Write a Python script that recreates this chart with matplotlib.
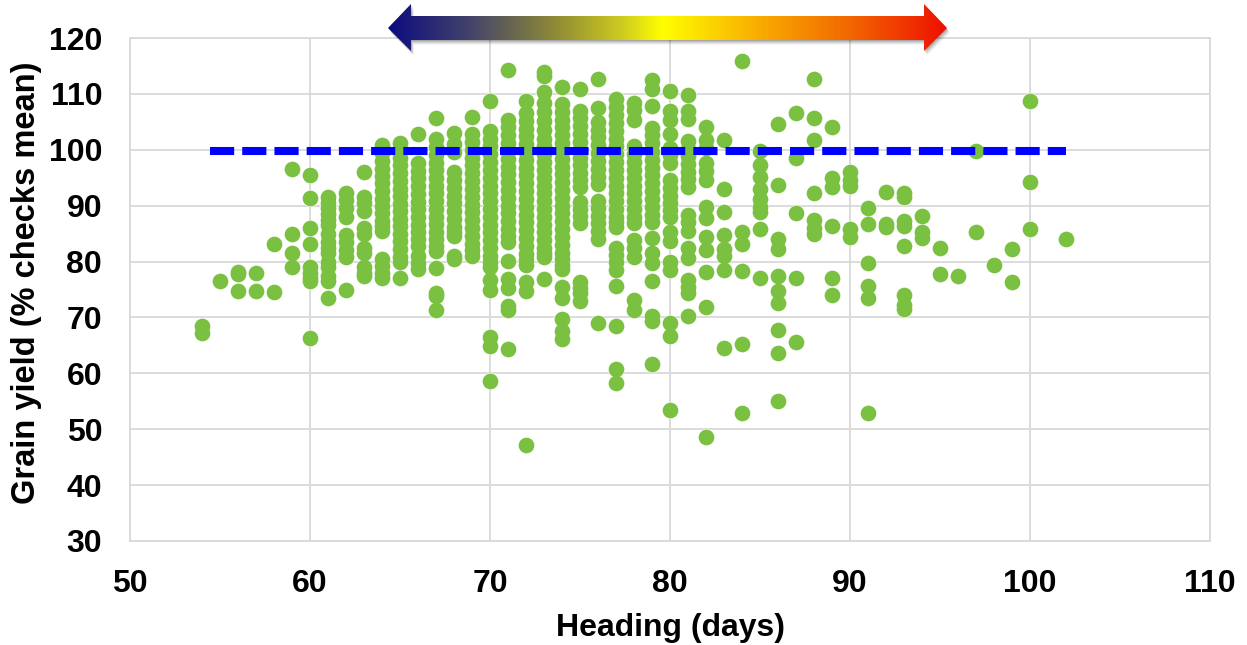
# -*- coding: utf-8 -*-
import numpy as np
import matplotlib
matplotlib.use('Agg')
from matplotlib import pyplot as plt
from matplotlib.colors import LinearSegmentedColormap
from matplotlib.patches import Polygon

plt.rcParams['font.family'] = ['Liberation Sans', 'DejaVu Sans']

# grain yield per heading day, read column by column
d54 = [68.5, 67.3]
d55 = [76.6]
d56 = [78.1, 77.7, 74.8]
d57 = [77.9, 74.7]
d58 = [83.2, 74.5]
d59 = [96.6, 85.0, 81.5, 79.0]
d60 = [95.5, 91.4, 86.0, 83.2, 79.0, 78.0, 77.0, 76.5, 66.3]
d61 = [91.5, 90.5, 89.5, 88.5, 87.5, 86.5, 85.0, 83.5, 82.5, 81.5, 80.0, 79.0, 77.5, 76.5, 73.5]
d62 = [92.3, 91.0, 89.5, 88.0, 84.8, 83.5, 82.0, 80.8, 75.0]
d63 = [96.0, 91.5, 90.5, 89.0, 86.0, 85.0, 82.5, 81.5, 79.0, 78.0, 77.5]
d64 = [100.9, 99.4, 98.0, 96.6, 95.3, 94.0, 92.6, 91.2, 89.9, 88.6, 87.3, 86.4, 85.5, 80.4, 79.2, 78.0, 77.1]
d65 = [101.3, 100.0, 98.5, 97.2, 95.8, 94.4, 93.0, 91.7, 90.3, 89.0, 87.6, 86.3, 85.0, 83.6, 82.2, 80.9, 80.0, 77.1]
d66 = [102.9, 97.6, 96.2, 94.9, 93.5, 92.1, 90.7, 89.4, 88.0, 86.6, 85.3, 84.0, 82.7, 81.0, 79.8, 78.6]
d67 = [105.6, 101.9, 100.5, 99.1, 97.7, 96.3, 95.0, 93.6, 92.2, 90.8, 89.4, 88.0, 86.7, 85.3, 84.0, 82.8, 81.8, 78.8, 74.3, 73.9, 71.3]
d68 = [103.0, 101.0, 99.6, 96.0, 94.6, 93.2, 91.8, 90.4, 89.0, 87.6, 86.2, 85.2, 84.5, 81.0, 80.4]
d69 = [105.8, 102.8, 101.4, 100.0, 98.6, 97.2, 95.8, 94.4, 93.0, 91.6, 90.2, 88.8, 87.4, 86.0, 84.6, 83.2, 82.0, 81.0]
d70 = [108.8, 103.4, 102.0, 100.6, 99.2, 97.8, 96.4, 95.0, 93.6, 92.2, 90.8, 89.4, 88.0, 86.6, 85.2, 83.8, 82.4,
       81.0, 80.0, 79.0, 76.7, 74.9, 66.5, 64.9, 58.6]
d71 = [114.3, 105.4, 104.0, 102.6, 101.2, 99.8, 98.4, 97.0, 95.6, 94.2, 92.8, 91.4, 90.0, 88.6, 87.2, 85.8, 84.6,
       83.5, 80.1, 76.8, 75.2, 72.0, 71.3, 64.4]
d72 = [108.8, 106.6, 105.2, 103.8, 102.4, 101.0, 99.6, 98.2, 96.8, 95.4, 94.0, 92.6, 91.2, 89.8, 88.4, 87.0, 85.6,
       84.2, 82.8, 81.4, 80.3, 79.4, 76.4, 74.7, 47.1]
d73 = [114.0, 113.2, 110.4, 108.4, 106.8, 105.2, 103.6, 102.0, 100.6, 99.2, 97.8, 96.4, 95.0, 93.6, 92.2, 90.8,
       89.4, 88.0, 86.6, 85.2, 83.8, 82.4, 81.5, 80.8, 76.9]
d74 = [111.2, 108.2, 106.8, 105.4, 104.0, 102.6, 101.2, 99.8, 98.4, 97.0, 95.6, 94.2, 92.8, 91.4, 90.0, 88.6, 87.2,
       85.8, 84.4, 83.0, 81.6, 80.4, 79.4, 78.6, 75.4, 73.5, 69.7, 67.5, 66.2]
d75 = [110.8, 107.0, 105.6, 104.2, 102.8, 101.4, 100.0, 98.6, 97.2, 95.8, 94.6, 93.4, 90.7, 89.4, 88.2, 86.9, 76.3, 75.2, 74.3, 72.9]
d76 = [112.7, 107.5, 105.0, 103.6, 102.2, 100.8, 99.4, 98.0, 96.6, 95.2, 93.9, 90.8, 89.5, 88.2, 86.9, 85.5, 84.0, 69.0]
d77 = [109.0, 107.6, 106.2, 104.8, 103.4, 102.0, 100.6, 99.2, 97.8, 96.4, 95.0, 93.6, 92.2, 90.8, 89.4, 88.0, 87.0,
       86.2, 82.4, 81.2, 80.0, 78.5, 75.7, 68.4, 60.8, 58.3]
d78 = [108.4, 107.2, 105.3, 100.6, 99.2, 97.8, 96.4, 95.0, 93.6, 92.2, 90.8, 89.4, 88.0, 86.9, 83.9, 82.4, 80.9, 73.1, 71.3]
d79 = [112.5, 110.8, 107.8, 103.9, 102.6, 101.2, 99.6, 98.2, 96.8, 95.4, 94.0, 92.6, 91.2, 89.8, 88.4, 87.1, 84.3,
       81.5, 79.7, 76.5, 70.3, 69.3, 61.7]
d80 = [110.5, 107.0, 105.4, 102.8, 100.3, 99.0, 97.7, 94.6, 93.2, 91.8, 90.4, 89.2, 88.0, 85.3, 83.6, 80.0, 78.5, 69.0, 66.7, 53.4]
d81 = [109.8, 107.0, 105.5, 101.5, 100.2, 98.8, 97.4, 96.0, 94.7, 93.4, 88.3, 87.0, 85.5, 82.4, 80.6, 76.7, 75.4, 74.3, 70.2]
d82 = [104.0, 101.7, 100.3, 97.6, 96.2, 94.6, 89.8, 87.8, 84.4, 82.0, 78.1, 71.9, 48.6]
d83 = [101.8, 93.0, 88.8, 84.8, 82.2, 81.0, 78.5, 64.5]
d84 = [115.8, 85.2, 83.2, 78.3, 65.2, 52.9]
d85 = [99.7, 97.3, 95.2, 93.0, 91.2, 89.8, 88.9, 85.8, 77.0]
d86 = [104.6, 93.7, 84.0, 82.2, 77.5, 74.7, 72.6, 67.8, 63.7, 55.0]
d87 = [106.6, 98.6, 88.7, 77.0, 65.6]
d88 = [112.7, 105.7, 101.7, 92.2, 87.5, 86.0, 85.0]
d89 = [104.0, 95.0, 93.4, 86.4, 77.0, 74.0]
d90 = [96.0, 94.6, 93.6, 85.8, 84.4]
d91 = [89.6, 86.7, 79.8, 75.7, 73.5, 52.9]
d92 = [92.5, 86.7, 86.2]
d93 = [92.2, 91.5, 87.2, 86.3, 82.8, 74.0, 72.3, 71.5]
d94 = [88.2, 85.3, 84.3]
d95 = [82.4, 77.7]
d96 = [77.5]
d97 = [99.8, 85.3]
d98 = [79.3]
d99 = [82.2, 76.4]
d100 = [108.8, 94.3, 85.8]
d102 = [84.1]

columns = {54: d54, 55: d55, 56: d56, 57: d57, 58: d58, 59: d59, 60: d60, 61: d61, 62: d62, 63: d63,
           64: d64, 65: d65, 66: d66, 67: d67, 68: d68, 69: d69, 70: d70, 71: d71, 72: d72, 73: d73,
           74: d74, 75: d75, 76: d76, 77: d77, 78: d78, 79: d79, 80: d80, 81: d81, 82: d82, 83: d83,
           84: d84, 85: d85, 86: d86, 87: d87, 88: d88, 89: d89, 90: d90, 91: d91, 92: d92, 93: d93,
           94: d94, 95: d95, 96: d96, 97: d97, 98: d98, 99: d99, 100: d100, 102: d102}

check_x = [54.45, 102]
check_y = [99.8, 99.8]

xticks = [50, 60, 70, 80, 90, 100, 110]
yticks = [30, 40, 50, 60, 70, 80, 90, 100, 110, 120]

W, H = 1247, 645
fig = plt.figure(figsize=(W / 100, H / 100), dpi=100)
ax = fig.add_axes([130 / W, 1 - 541 / H, 1080 / W, 503 / H])

heading = []
grain = []
for day in columns:
    for val in columns[day]:
        heading.append(day)
        grain.append(val)

# thin white halo goes under all the dots, so dots merge in the dense columns
ax.scatter(heading, grain, s=146, color='white', linewidths=0, zorder=2.5, clip_on=False)
ax.scatter(heading, grain, s=128, color='#7AC142', linewidths=0, zorder=3, clip_on=False)
ax.plot(check_x, check_y, color='#0000FF', linewidth=5.8, linestyle=(0, (3.0, 1.0)),
        dash_capstyle='butt', zorder=4)

ax.set_xlim(50, 110)
ax.set_ylim(30, 120)
ax.set_xticks(xticks)
ax.set_yticks(yticks)
ax.grid(True, color='#D9D9D9', linewidth=1.3, zorder=0)
ax.set_axisbelow(True)
for s in ax.spines.values():
    s.set_color('#D9D9D9')
    s.set_linewidth(1.3)
ax.tick_params(axis='x', length=0, labelsize=23, pad=20)
ax.tick_params(axis='y', length=0, labelsize=23, pad=20)
for lab in ax.get_xticklabels() + ax.get_yticklabels():
    lab.set_fontweight('bold')
ax.set_xlabel('Heading (days)', fontsize=23, fontweight='bold', va='center')
ax.set_ylabel('Grain yield (% checks mean)', fontsize=23.5, fontweight='bold', va='center')
ax.xaxis.set_label_coords(0.5, (541 - 628) / 503)
ax.yaxis.set_label_coords((27 - 130) / 1080, (541 - 283) / 503)

# gradient arrow above the plot, in pixel coordinates
over = fig.add_axes([0, 0, 1, 1], zorder=5)
over.set_xlim(0, W)
over.set_ylim(H, 0)
over.axis('off')
over.patch.set_alpha(0)

arrow = [(388, 28), (411, 4), (411, 16), (924, 16), (924, 4), (947, 28), (924, 51), (924, 40), (411, 40), (411, 51)]
arrow_pts = np.array(arrow, dtype=float)
for off, al in [(5, 0.04), (4, 0.06), (3, 0.08), (2, 0.10), (1, 0.12)]:
    over.add_patch(Polygon(arrow_pts + [off * 0.6, off], closed=True, facecolor='black', edgecolor='none', alpha=al))

cmap = LinearSegmentedColormap.from_list('heat', [(0, '#0C0C80'), (0.15, '#45456A'), (0.3, '#8F8B35'),
                                                  (0.42, '#CFCC20'), (0.49, '#FFFF00'), (0.66, '#F9AE00'),
                                                  (0.82, '#F26A00'), (1, '#EE1000')])
grad = np.linspace(0, 1, 512).reshape(1, -1)
im = over.imshow(grad, cmap=cmap, extent=[388, 947, 51, 4], aspect='auto', zorder=6)
clip = Polygon(arrow_pts, closed=True, transform=over.transData, facecolor='none', edgecolor='none')
over.add_patch(clip)
im.set_clip_path(clip)
over.set_xlim(0, W)
over.set_ylim(H, 0)

plt.savefig('out.png', dpi=100)
